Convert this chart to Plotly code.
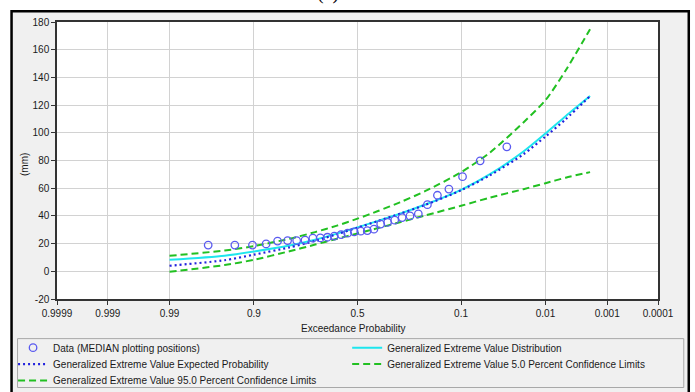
from statistics import NormalDist
import plotly.graph_objects as go

NORM = NormalDist()


def zpos(p):
    """Exceedance probability -> position on the normal-probability axis."""
    return NORM.inv_cdf(1.0 - p)


# ---------------- data ----------------
tick_probs = [0.9999, 0.999, 0.99, 0.9, 0.5, 0.1, 0.01, 0.001, 0.0001]
tick_text = ["0.9999", "0.999", "0.99", "0.9", "0.5", "0.1", "0.01", "0.001", "0.0001"]
y_tick_vals = [-20, 0, 20, 40, 60, 80, 100, 120, 140, 160, 180]
y_tick_text = ["-20", "0", "20", "40", "60", "80", "100", "120", "140", "160", "180"]

# observed data (plotting positions, exceedance probability) and values (mm)
data_prob = [0.0323, 0.0645, 0.0968, 0.1290, 0.1613, 0.1935, 0.2258, 0.2581, 0.2903, 0.3226,
             0.3548, 0.3871, 0.4194, 0.4516, 0.4839, 0.5161, 0.5484, 0.5806, 0.6129, 0.6452,
             0.6774, 0.7097, 0.7419, 0.7742, 0.8065, 0.8387, 0.8710, 0.9032, 0.9355, 0.9677]
data_mm = [89.9, 79.8, 68.3, 59.4, 54.9, 48.1, 41.4, 40.0, 38.8, 36.9,
           35.3, 34.1, 30.4, 29.4, 29.0, 28.5, 27.5, 26.5, 25.4, 24.6,
           24.1, 23.9, 22.5, 22.2, 22.2, 21.8, 19.8, 18.9, 18.9, 18.9]

# fitted curves
curve_prob = [0.99, 0.95, 0.9, 0.8, 0.7, 0.6, 0.5, 0.4, 0.3, 0.2, 0.1, 0.05, 0.02, 0.01, 0.005, 0.002]
gev_mm = [8.3, 11.3, 14.3, 18.6, 22.8, 27.2, 31.7, 36.4, 41.6, 48.2, 58.8, 70.3, 86.5, 99.5, 112.0, 126.5]
expected_mm = [4.0, 8.0, 12.0, 17.3, 22.0, 26.8, 31.5, 36.3, 41.5, 48.0, 58.5, 69.5, 84.5, 97.3, 109.8, 126.5]
conf05_mm = [11.2, 15.0, 18.2, 23.5, 28.3, 33.0, 38.0, 43.5, 49.8, 58.0, 71.5, 86.0, 107.5, 123.5, 145.0, 174.7]
conf95_mm = [-0.4, 4.5, 8.3, 14.5, 19.3, 23.5, 27.3, 31.2, 35.4, 40.4, 47.3, 53.3, 59.3, 63.6, 67.6, 71.6]

# ---------------- styling ----------------
FONT = "Liberation Sans, Arial, sans-serif"
TXT = "#1a1a1a"
GREEN = "#22c022"
CYAN = "#1ee6ee"
BLUE = "#2222dd"
CIRC = "#5a5af0"

W, H = 695, 392
ML, MR, MT, MB = 56.5, 36.8, 21.7, 92.7
PW = W - ML - MR
PH = H - MT - MB


def px(x):
    return (x - ML) / PW


def py(y):
    return (H - MB - y) / PH


curve_x = [zpos(p) for p in curve_prob]
SM = 0.7

fig = go.Figure()

fig.add_trace(go.Scatter(
    x=curve_x, y=conf95_mm, mode="lines",
    line=dict(color=GREEN, width=2, dash="7px,4px", shape="spline", smoothing=SM),
    name="Generalized Extreme Value 95.0 Percent Confidence Limits", legend="legend5"))
fig.add_trace(go.Scatter(
    x=curve_x, y=conf05_mm, mode="lines",
    line=dict(color=GREEN, width=2, dash="7px,4px", shape="spline", smoothing=SM),
    name="Generalized Extreme Value 5.0 Percent Confidence Limits", legend="legend4"))
fig.add_trace(go.Scatter(
    x=curve_x, y=gev_mm, mode="lines",
    line=dict(color=CYAN, width=2, shape="spline", smoothing=SM),
    name="Generalized Extreme Value Distribution", legend="legend2"))
fig.add_trace(go.Scatter(
    x=curve_x, y=expected_mm, mode="lines",
    line=dict(color=BLUE, width=2.2, dash="2px,3px", shape="spline", smoothing=SM),
    name="Generalized Extreme Value Expected Probability", legend="legend3"))
fig.add_trace(go.Scatter(
    x=[zpos(p) for p in data_prob], y=data_mm, mode="markers",
    marker=dict(symbol="circle-open", size=7.5, color=CIRC, line=dict(width=1.3, color=CIRC)),
    name="Data (MEDIAN plotting positions)", legend="legend"))

leg_common = dict(xanchor="left", yanchor="top", bgcolor="rgba(0,0,0,0)", borderwidth=0,
                  font=dict(family=FONT, size=10, color=TXT), orientation="v")
col1, col2 = px(12.5), px(347)
row1, row2, row3 = py(333.5), py(350), py(366.5)

fig.update_layout(
    width=W, height=H,
    margin=dict(l=ML, r=MR, t=MT, b=MB, autoexpand=False),
    paper_bgcolor="white", plot_bgcolor="white",
    font=dict(family=FONT, size=10, color=TXT),
    showlegend=True,
    legend=dict(x=col1, y=row1, **leg_common),
    legend2=dict(x=col2, y=row1, **leg_common),
    legend3=dict(x=col1, y=row2, **leg_common),
    legend4=dict(x=col2, y=row2, **leg_common),
    legend5=dict(x=col1, y=row3, **leg_common),
    xaxis=dict(
        range=[zpos(0.9999), zpos(0.0001)],
        tickvals=[zpos(p) for p in tick_probs], ticktext=tick_text,
        showgrid=True, gridcolor="#d2d2d2", gridwidth=1,
        ticks="outside", ticklen=4, tickcolor="#333333",
        showline=True, mirror=True, linecolor="#333333", linewidth=1.5,
        zeroline=False, tickfont=dict(family=FONT, size=10, color=TXT),
    ),
    yaxis=dict(
        range=[-20, 180], tickvals=y_tick_vals, ticktext=y_tick_text,
        showgrid=True, gridcolor="#d2d2d2", gridwidth=1,
        ticks="outside", ticklen=4, tickcolor="#333333",
        showline=True, mirror=True, linecolor="#333333", linewidth=1.5,
        zeroline=False, tickfont=dict(family=FONT, size=10, color=TXT),
    ),
    shapes=[
        dict(type="rect", xref="paper", yref="paper", layer="below",
             x0=px(11), x1=px(689), y0=py(400), y1=py(11),
             fillcolor="#f0f0f0", line=dict(color="black", width=2.5)),
        dict(type="rect", xref="paper", yref="paper", layer="below",
             x0=0, x1=1, y0=0, y1=1, fillcolor="white", line=dict(width=0)),
        dict(type="rect", xref="paper", yref="paper", layer="below",
             x0=px(17), x1=px(684), y0=py(388), y1=py(339),
             fillcolor="#f0f0f0", line=dict(color="#a8a8a8", width=1)),
    ],
    annotations=[
        dict(text="(c)", x=px(328), y=py(6), xref="paper", yref="paper",
             xanchor="center", yanchor="bottom", showarrow=False,
             font=dict(family="Liberation Serif, Times New Roman, serif", size=20, color="black")),
        dict(text="(mm)", x=px(24.5), y=py(165), xref="paper", yref="paper",
             xanchor="center", yanchor="middle", textangle=-90, showarrow=False,
             font=dict(family=FONT, size=10, color=TXT)),
        dict(text="Exceedance Probability", x=px(353), y=py(329), xref="paper", yref="paper",
             xanchor="center", yanchor="middle", showarrow=False,
             font=dict(family=FONT, size=10, color=TXT)),
    ],
)

fig.write_html("out.html")
